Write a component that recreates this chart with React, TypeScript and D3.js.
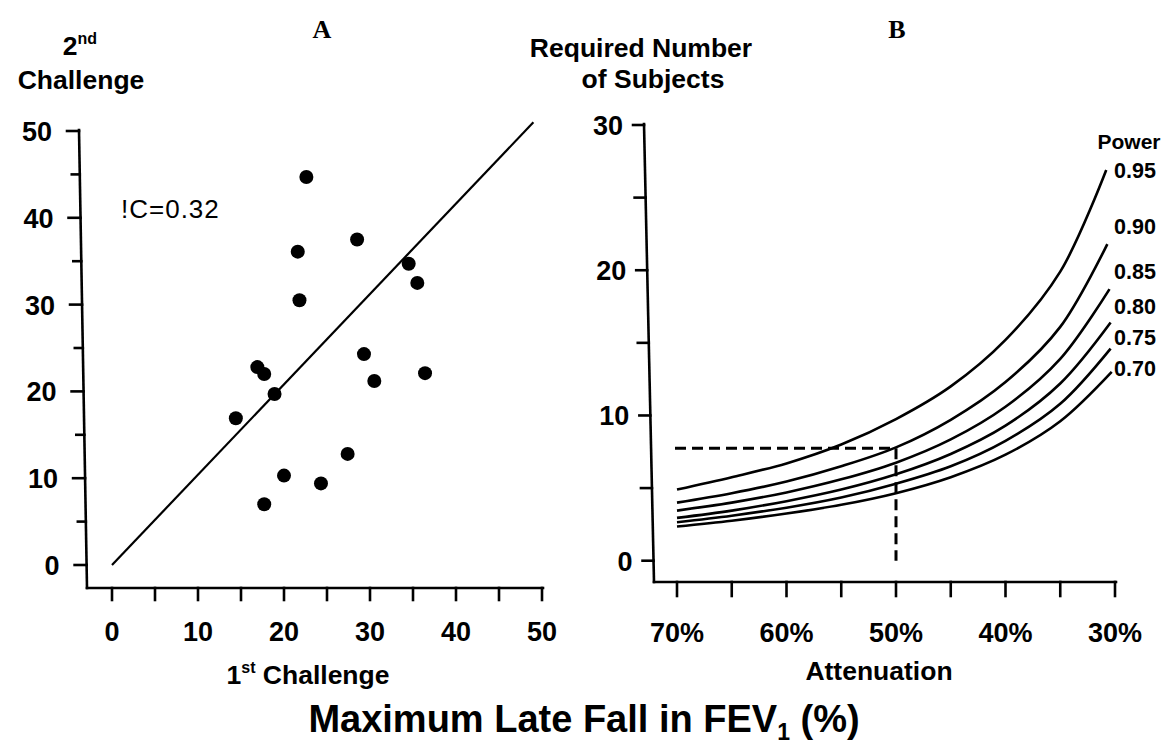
import React from 'react';
import * as d3 from 'd3';

// Panel A: scatter of 1st vs 2nd challenge (max late fall in FEV1, %)
const firstChallenge = [22.6, 28.5, 21.6, 34.5, 35.5, 21.8, 29.3, 16.9, 17.7, 36.4, 30.5, 18.9, 14.4, 27.4, 20.0, 24.3, 17.7];
const secondChallenge = [44.7, 37.5, 36.1, 34.7, 32.5, 30.5, 24.3, 22.8, 22.0, 22.1, 21.2, 19.7, 16.9, 12.8, 10.3, 9.4, 7.0];
const lineFirst = [0, 49];
const lineSecond = [0, 51];
const aMajorTicks = [0, 10, 20, 30, 40, 50];
const aMinorTicks = [5, 15, 25, 35, 45];
const icLabel = '!C=0.32';

// Panel B: required number of subjects vs attenuation
const attenuation = [70, 65, 60, 55, 50, 45, 40, 35];
const powerLabels = ['0.95', '0.90', '0.85', '0.80', '0.75', '0.70'];
const curveEndAttenuation = [30.8, 30.7, 30.5, 30.4, 30.4, 30.3];
const n095 = [4.9, 5.75, 6.7, 8.0, 9.75, 12.0, 15.2, 19.9, 26.9];
const n090 = [4.0, 4.65, 5.45, 6.5, 7.8, 9.7, 12.3, 16.1, 21.8];
const n085 = [3.45, 4.0, 4.7, 5.6, 6.75, 8.35, 10.6, 13.9, 18.7];
const n080 = [2.95, 3.45, 4.1, 4.9, 5.95, 7.35, 9.3, 12.2, 16.4];
const n075 = [2.65, 3.1, 3.65, 4.35, 5.3, 6.5, 8.25, 10.8, 14.6];
const n070 = [2.35, 2.75, 3.25, 3.85, 4.65, 5.75, 7.3, 9.6, 13.0];
const powerLabelAnchor = [26.8, 23.0, 19.9, 17.5, 15.3, 13.2];
const bMajorTicksY = [0, 10, 20, 30];
const bMinorTicksY = [5, 15, 25];
const bMajorTicksX = [70, 60, 50, 40, 30];
const bMinorTicksX = [65, 55, 45, 35];
const referenceN = 7.75;
const referenceAttenuation = 50;

const SANS = '"Liberation Sans", Arial, Helvetica, sans-serif';
const SERIF = '"Liberation Serif", "Times New Roman", serif';

export default function App() {
  const xA = d3.scaleLinear().domain([0, 50]).range([112, 542]);
  const yA = d3.scaleLinear().domain([0, 50]).range([565, 131]);
  const xB = d3.scaleLinear().domain([70, 30]).range([677, 1115]);
  const yB = d3.scaleLinear().domain([0, 30]).range([560.7, 125]);

  const series = [n095, n090, n085, n080, n075, n070];
  const line = d3
    .line<[number, number]>()
    .x((d) => xB(d[0]))
    .y((d) => yB(d[1]))
    .curve(d3.curveCatmullRom.alpha(0.5));

  // slightly skewed vertical axes (as in the scanned original)
  const axisA_x = 588;
  const axisB_x = 582;
  const aAxis = d3.scaleLinear().domain([yA(50) - 1, axisA_x]).range([79, 87]);
  const bAxis = d3.scaleLinear().domain([yB(30) - 1, axisB_x]).range([644, 654]);
  const sw = 2.6;

  return (
    <svg
      width={1166}
      height={755}
      style={{ position: 'absolute', left: 0, top: 0, background: '#fff' }}
    >
      <rect x={0} y={0} width={1166} height={755} fill="#fff" />
      {/* Panel titles */}
      <text x={322} y={38} fontFamily={SERIF} fontWeight="bold" fontSize={26} textAnchor="middle">A</text>
      <text x={897} y={38} fontFamily={SERIF} fontWeight="bold" fontSize={26} textAnchor="middle">B</text>

      {/* Panel A y title */}
      <text x={80} y={55} fontFamily={SANS} fontWeight="bold" fontSize={26.5} textAnchor="middle">
        <tspan>2</tspan>
        <tspan dy={-11} fontSize={16}>nd</tspan>
      </text>
      <text x={81} y={89} fontFamily={SANS} fontWeight="bold" fontSize={26.5} textAnchor="middle">Challenge</text>

      {/* Panel A axes */}
      <g stroke="#000" strokeWidth={sw} fill="none" strokeLinecap="square">
        <line x1={aAxis(yA(50) - 1)} y1={yA(50) - 1} x2={aAxis(axisA_x)} y2={axisA_x} />
        <line x1={aAxis(axisA_x)} y1={axisA_x} x2={xA(50) + 1} y2={axisA_x} />
        {aMajorTicks.map((t) => (
          <line key={'ay' + t} x1={aAxis(yA(t)) - 12} x2={aAxis(yA(t))} y1={yA(t)} y2={yA(t)} />
        ))}
        {aMinorTicks.map((t) => (
          <line key={'aym' + t} x1={aAxis(yA(t)) - 8} x2={aAxis(yA(t))} y1={yA(t)} y2={yA(t)} />
        ))}
        {[...aMajorTicks, ...aMinorTicks].map((t) => (
          <line key={'ax' + t} x1={xA(t)} x2={xA(t)} y1={axisA_x} y2={axisA_x + 12} />
        ))}
      </g>
      {aMajorTicks.map((t) => (
        <text key={'ayl' + t} x={aAxis(yA(t)) - 27} y={yA(t) + 10} fontFamily={SANS} fontWeight="bold" fontSize={27} textAnchor="end">{t}</text>
      ))}
      {aMajorTicks.map((t) => (
        <text key={'axl' + t} x={xA(t)} y={641} fontFamily={SANS} fontWeight="bold" fontSize={27} textAnchor="middle">{t}</text>
      ))}
      <text x={308} y={684} fontFamily={SANS} fontWeight="bold" fontSize={26.5} textAnchor="middle">
        <tspan>1</tspan>
        <tspan dy={-11} fontSize={16}>st</tspan>
        <tspan dy={11}> Challenge</tspan>
      </text>

      {/* identity line and points */}
      <line x1={xA(lineFirst[0])} y1={yA(lineSecond[0])} x2={xA(lineFirst[1])} y2={yA(lineSecond[1])} stroke="#000" strokeWidth={2.2} />
      {firstChallenge.map((v, i) => (
        <circle key={'p' + i} cx={xA(v)} cy={yA(secondChallenge[i])} r={7} fill="#000" />
      ))}
      <text x={121} y={218} fontFamily={SANS} fontSize={26} letterSpacing={1}>{icLabel}</text>

      {/* Panel B y title */}
      <text x={641} y={57} fontFamily={SANS} fontWeight="bold" fontSize={26.5} textAnchor="middle">Required Number</text>
      <text x={653} y={88} fontFamily={SANS} fontWeight="bold" fontSize={26.5} textAnchor="middle">of Subjects</text>

      {/* Panel B axes */}
      <g stroke="#000" strokeWidth={sw} fill="none" strokeLinecap="square">
        <line x1={bAxis(yB(30) - 1)} y1={yB(30) - 1} x2={bAxis(axisB_x)} y2={axisB_x} />
        <line x1={bAxis(axisB_x)} y1={axisB_x} x2={xB(30) + 1} y2={axisB_x} />
        {[...bMajorTicksY, ...bMinorTicksY].map((t) => (
          <line key={'by' + t} x1={bAxis(yB(t)) - 11} x2={bAxis(yB(t))} y1={yB(t)} y2={yB(t)} />
        ))}
        {[...bMajorTicksX, ...bMinorTicksX].map((t) => (
          <line key={'bx' + t} x1={xB(t)} x2={xB(t)} y1={axisB_x} y2={axisB_x + 14} />
        ))}
      </g>
      {bMajorTicksY.map((t) => (
        <text key={'byl' + t} x={bAxis(yB(t)) - 21} y={yB(t) + 10} fontFamily={SANS} fontWeight="bold" fontSize={27} textAnchor="end">{t}</text>
      ))}
      {bMajorTicksX.map((t) => (
        <text key={'bxl' + t} x={xB(t)} y={642} fontFamily={SANS} fontWeight="bold" fontSize={27} textAnchor="middle">{t + '%'}</text>
      ))}
      <text x={879} y={680} fontFamily={SANS} fontWeight="bold" fontSize={26.5} textAnchor="middle">Attenuation</text>

      {/* curves */}
      {series.map((vals, i) => {
        const xs = [...attenuation, curveEndAttenuation[i]];
        const pts = xs.map((a, j) => [a, vals[j]] as [number, number]);
        return <path key={'c' + i} d={line(pts) || ''} fill="none" stroke="#000" strokeWidth={2.6} />;
      })}
      {/* reference dashed lines */}
      <g stroke="#000" strokeWidth={3} strokeDasharray="11 6" fill="none">
        <line x1={xB(70) - 2} x2={xB(referenceAttenuation)} y1={yB(referenceN)} y2={yB(referenceN)} />
        <line x1={xB(referenceAttenuation)} x2={xB(referenceAttenuation)} y1={yB(referenceN)} y2={yB(0)} />
      </g>
      <text x={1129} y={149} fontFamily={SANS} fontWeight="bold" fontSize={21} textAnchor="middle">Power</text>
      {powerLabels.map((p, i) => (
        <text key={'pl' + i} x={1114} y={yB(powerLabelAnchor[i]) + 7} fontFamily={SANS} fontWeight="bold" fontSize={21.5}>{p}</text>
      ))}

      {/* common title */}
      <text x={584} y={732} fontFamily={SANS} fontWeight="bold" fontSize={38} textAnchor="middle">
        <tspan>Maximum Late Fall in FEV</tspan>
        <tspan dy={8} fontSize={23}>1</tspan>
        <tspan dy={-8}> (%)</tspan>
      </text>
    </svg>
  );
}
